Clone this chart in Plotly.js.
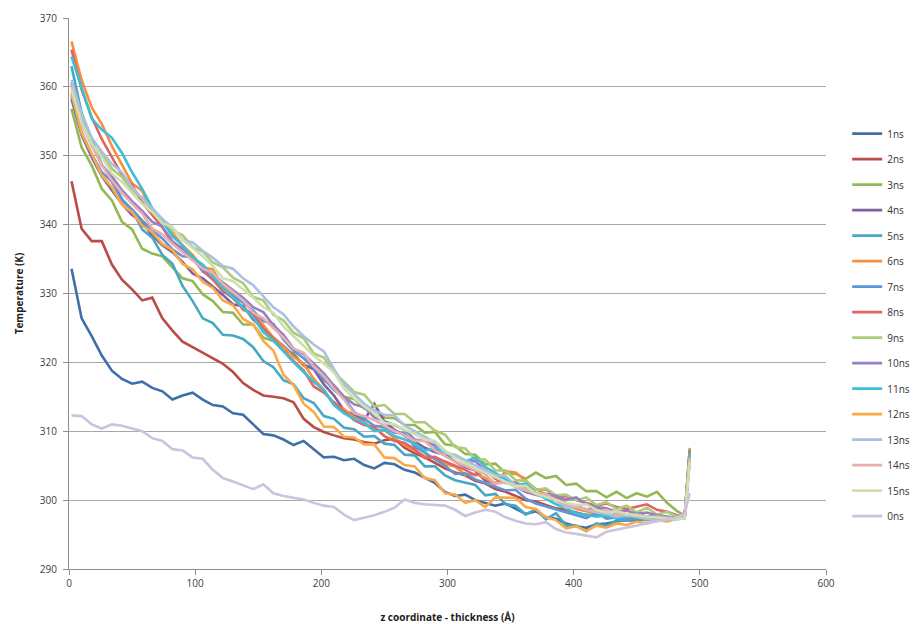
<!DOCTYPE html>
<html><head><meta charset="utf-8">
<script src="https://cdn.plot.ly/plotly-3.0.1.min.js"></script>
<style>html,body{margin:0;padding:0;background:#fff}#chart{width:914px;height:624px}</style>
</head><body><div id="chart"></div>
<script>
const zCoord = [2,10,18,26,34,42,50,58,66,74,82,90,98,106,114,122,130,138,146,154,162,170,178,186,194,202,210,218,226,234,242,250,258,266,274,282,290,298,306,314,322,330,338,346,354,362,370,378,386,394,402,410,418,426,434,442,450,458,466,474,482,488,492];

const seriesNames = ['1ns','2ns','3ns','4ns','5ns','6ns','7ns','8ns','9ns','10ns','11ns','12ns','13ns','14ns','15ns','0ns'];
const seriesColors = ['#3f6fa8','#bb4b47','#94b856','#7d60a0','#46a8c4','#f49040','#5f96d8','#e06461','#adcb7b','#9880c4','#3cc0d8','#fba946','#a9c0e0','#eaaeae','#cde0ad','#cbc3df'];

const t1ns = [333.6,326.4,323.8,321.0,318.8,317.6,316.9,317.2,316.3,315.8,
314.6,315.2,315.6,314.6,313.8,313.6,312.6,312.4,311.0,309.6,
309.4,308.8,308.0,308.6,307.4,306.2,306.3,305.8,306.0,305.1,
304.6,305.4,305.2,304.4,304.0,303.2,302.5,301.2,300.6,300.8,
300.0,299.6,299.2,299.5,298.8,298.0,298.4,297.5,297.3,296.6,
296.2,296.0,296.5,296.6,296.9,297.1,297.0,297.4,297.2,297.5,
297.3,297.5,306.0];
const t2ns = [346.3,339.4,337.6,337.6,334.2,332.0,330.6,329.0,329.4,326.4,
324.6,323.0,322.2,321.4,320.6,319.8,318.6,317.0,316.0,315.2,
315.0,314.8,314.2,311.8,310.6,309.9,309.4,309.0,308.8,308.4,
308.2,308.7,308.9,307.6,306.8,306.2,305.4,304.6,304.0,303.6,
302.8,302.4,301.6,301.2,300.6,300.0,299.8,299.3,298.8,298.6,
298.2,297.8,297.9,297.6,297.7,297.4,297.6,297.3,297.5,297.4,
297.4,297.6,307.3];
const t3ns = [356.8,351.2,348.6,345.2,343.5,340.4,339.3,336.5,335.8,335.4,
333.8,332.2,331.8,329.9,328.9,327.3,327.2,325.5,325.5,323.6,
323.1,321.7,321.3,319.5,319.2,317.3,316.7,315.0,314.7,313.3,
313.1,312.0,311.9,310.9,310.9,309.8,309.9,308.1,307.9,306.7,
306.6,305.2,305.3,303.9,303.8,303.1,304.0,303.2,303.5,302.2,
302.4,301.3,301.3,300.4,301.2,300.3,301.0,300.5,301.2,299.6,
298.4,297.8,307.6];
const t4ns = [358.2,353.0,349.8,347.0,345.0,343.0,341.4,340.4,338.4,337.0,
336.0,334.6,332.9,332.2,331.0,329.8,328.4,328.2,326.2,325.0,
323.6,322.4,321.0,319.7,319.0,316.8,315.2,313.0,312.4,311.6,
314.0,311.4,310.2,309.4,308.5,307.6,307.0,306.6,305.6,304.8,
304.3,302.8,302.5,302.8,302.0,301.2,300.8,300.5,300.4,299.6,
299.2,298.6,298.9,298.2,298.4,297.9,298.1,297.6,297.8,297.5,
297.4,297.6,306.4];
const t5ns = [363.0,356.2,352.4,348.7,346.6,343.7,342.1,339.3,338.1,335.6,
334.3,331.1,328.9,326.4,325.7,324.0,323.9,323.4,322.2,320.2,
319.3,317.4,316.8,314.8,314.1,312.2,311.8,310.5,310.3,309.2,
309.3,308.2,308.0,306.6,306.5,304.9,304.9,303.6,302.9,302.5,
302.2,300.7,300.9,299.4,299.2,297.9,298.7,297.2,298.1,296.3,
296.3,295.5,296.6,296.2,297.1,297.0,297.3,297.1,297.5,297.2,
297.4,297.5,306.8];
const t6ns = [366.6,361.0,357.0,354.6,351.4,348.6,346.0,344.9,341.6,340.3,
338.8,337.0,335.6,333.8,333.5,331.0,329.8,327.6,327.2,325.4,
323.6,322.3,320.8,319.8,317.6,316.0,313.9,313.2,312.0,311.3,
310.2,310.2,309.0,308.0,307.2,306.4,306.1,305.2,304.9,303.7,
303.8,303.2,302.3,304.2,304.0,302.8,301.6,300.8,300.2,299.3,
298.7,298.4,298.0,297.6,297.9,297.4,297.6,297.2,297.5,297.3,
297.5,297.6,306.6];
const t7ns = [358.6,353.4,350.2,347.6,346.2,343.6,342.2,340.6,339.2,338.0,
336.4,335.4,335.3,333.2,332.2,330.3,329.8,328.6,327.5,326.0,
325.6,323.3,321.7,320.6,319.2,317.6,316.0,314.9,312.8,311.8,
310.8,310.6,309.8,309.7,307.8,306.9,305.9,305.0,303.8,303.9,
303.0,302.5,302.0,301.4,301.5,300.2,299.5,299.1,298.6,298.2,
297.8,297.4,298.2,297.3,297.5,297.2,297.6,297.3,297.5,297.4,
297.3,297.5,306.7];
const t8ns = [365.4,359.6,355.6,352.4,349.8,347.2,345.7,343.2,341.4,339.6,
337.3,336.6,335.0,333.4,332.0,330.4,329.3,327.8,327.0,324.9,
323.4,321.7,320.2,318.8,316.5,315.6,314.2,312.9,311.6,310.9,
310.6,309.3,308.6,308.3,307.4,306.1,306.3,305.6,305.0,304.4,
303.6,304.4,303.1,302.5,302.6,301.8,301.5,301.6,300.4,300.6,
300.0,299.6,299.2,299.5,299.0,298.7,299.0,299.4,298.6,298.3,
297.8,297.6,307.2];
const t9ns = [359.0,354.8,351.5,350.3,348.1,346.9,344.9,343.9,342.1,340.8,
339.1,338.5,336.7,336.1,334.5,333.8,332.3,331.5,329.5,329.0,
326.9,326.1,324.3,323.5,321.3,320.7,318.5,317.2,315.7,315.3,
313.6,313.8,312.5,312.5,311.3,311.3,310.1,309.5,307.7,307.5,
305.9,305.9,304.3,304.3,302.9,302.8,301.5,301.7,300.7,300.8,
300.0,300.4,299.3,299.7,298.7,299.2,298.2,298.9,297.9,298.3,
297.6,297.5,306.5];
const t10ns = [360.6,355.0,351.6,348.6,347.0,345.0,343.4,342.0,340.4,339.7,
337.6,336.4,335.3,333.4,332.8,331.6,330.5,329.4,328.0,327.3,
325.4,324.0,322.0,321.2,319.8,318.4,316.6,315.0,313.9,313.5,
312.0,311.5,310.9,310.2,308.8,308.6,307.9,307.0,306.4,305.6,
305.7,304.2,303.7,303.0,302.4,301.9,300.8,300.9,300.6,300.1,
300.4,299.4,299.0,298.8,298.3,298.5,298.0,298.2,297.8,297.6,
297.4,297.5,306.3];
const t11ns = [364.4,360.0,355.4,353.8,352.6,350.4,347.6,345.2,342.4,340.6,
338.3,337.0,335.2,334.2,332.5,330.8,329.4,328.0,326.5,324.4,
323.2,321.6,320.0,318.6,317.2,316.0,313.8,312.6,311.8,311.2,
310.0,310.2,309.3,308.8,308.2,307.2,307.5,306.8,306.3,305.6,
306.2,304.8,304.0,303.1,302.2,302.4,301.0,300.2,299.4,298.8,
298.1,297.9,297.6,297.8,297.4,297.6,297.9,297.5,297.3,297.6,
297.4,297.6,306.9];
const t12ns = [359.2,353.3,350.3,347.1,345.4,342.9,341.8,339.9,338.9,337.2,
336.3,334.3,333.5,331.7,330.8,329.0,328.3,326.3,325.5,323.1,
321.7,318.2,316.7,314.0,312.8,310.7,310.6,309.2,309.1,308.1,
308.1,306.2,306.1,305.1,304.9,303.2,302.9,301.0,300.8,299.6,
300.0,299.0,300.4,300.4,300.3,299.0,298.7,297.5,297.1,295.9,
296.2,295.5,296.3,296.0,296.6,296.4,296.9,296.6,297.1,296.9,
297.3,297.4,306.2];
const t13ns = [361.0,356.0,352.6,350.6,348.8,347.6,345.4,343.8,342.4,340.8,
339.6,337.8,337.4,336.2,335.2,334.0,333.6,332.2,331.2,329.6,
328.0,327.0,325.2,323.8,322.6,321.6,319.0,316.8,315.4,314.0,
313.0,312.4,312.3,310.8,310.0,309.2,308.4,306.8,306.6,305.8,
305.0,304.3,303.6,303.5,302.2,301.6,301.0,300.4,300.0,298.9,
299.0,298.6,298.2,298.0,297.6,297.8,297.5,297.3,297.1,297.3,
297.2,297.4,305.8];
const t14ns = [360.2,354.6,351.6,348.6,346.4,344.6,343.0,341.6,339.4,338.6,
337.2,336.0,334.8,333.6,333.0,331.4,330.2,329.0,327.2,326.4,
325.0,323.6,322.0,321.4,319.4,318.0,316.2,314.6,312.6,312.2,
311.6,310.8,310.0,309.4,308.6,308.6,307.2,306.4,305.6,305.0,
304.4,303.7,302.4,302.6,301.9,301.4,300.9,300.9,300.0,299.4,
299.1,298.7,298.3,298.6,298.0,297.8,297.9,297.5,297.6,297.4,
297.3,297.5,306.0];
const t15ns = [359.6,354.8,351.8,349.8,347.4,346.2,344.6,343.0,341.8,340.2,
339.6,337.8,336.6,335.4,334.0,332.2,331.8,330.6,329.4,328.0,
327.2,325.2,323.8,322.4,321.0,319.8,318.6,316.2,314.8,313.6,
312.6,311.2,311.0,310.2,309.6,308.8,308.6,307.2,306.2,305.4,
304.6,304.0,303.3,302.6,302.0,302.1,300.9,300.5,300.0,299.6,
299.3,299.4,298.6,298.2,298.4,298.0,297.8,297.6,297.5,297.3,
297.2,297.4,305.6];
const t0ns = [312.3,312.2,311.0,310.4,311.0,310.8,310.4,310.0,309.0,308.6,
307.4,307.2,306.2,306.0,304.4,303.2,302.7,302.2,301.6,302.3,
301.0,300.6,300.3,300.1,299.6,299.2,299.0,297.9,297.1,297.4,
297.8,298.3,298.9,300.1,299.6,299.4,299.3,299.2,298.6,297.7,
298.2,298.6,298.3,297.5,297.0,296.6,296.5,296.8,295.8,295.3,
295.1,294.9,294.6,295.4,295.7,296.0,296.3,296.6,296.9,297.2,
297.5,298.0,301.0];

const seriesValues = [t1ns,t2ns,t3ns,t4ns,t5ns,t6ns,t7ns,t8ns,t9ns,t10ns,t11ns,t12ns,t13ns,t14ns,t15ns,t0ns];

const traces = seriesNames.map((n, i) => ({
  type: 'scatter', mode: 'lines', name: n, legendgroup: n,
  x: zCoord, y: seriesValues[i],
  line: {color: seriesColors[i], width: 2.6, shape: 'linear'},
  hoverinfo: 'skip'
}));

const layout = {
  width: 914, height: 624,
  margin: {l: 69, r: 88, t: 18, b: 55, autoexpand: false},
  paper_bgcolor: '#ffffff', plot_bgcolor: '#ffffff',
  font: {family: '"Open Sans", "DejaVu Sans", sans-serif', size: 10, color: '#404040'},
  showlegend: true,
  xaxis: {
    range: [0, 600], tick0: 0, dtick: 100, showgrid: false, zeroline: false,
    showline: true, linecolor: '#8e8e8e', linewidth: 1,
    ticks: 'outside', ticklen: 5, tickcolor: '#8e8e8e',
    tickfont: {size: 10, color: '#404040'},
    title: {text: 'z coordinate - thickness (Å)', standoff: 25,
            font: {size: 10, color: '#222222', weight: 'bold'}}
  },
  yaxis: {
    range: [290, 370], tick0: 290, dtick: 10, showgrid: true, gridcolor: '#a8a8a8', gridwidth: 1,
    zeroline: false, showline: true, linecolor: '#8e8e8e', linewidth: 1,
    ticks: 'outside', ticklen: 5, tickcolor: '#8e8e8e', ticklabelstandoff: 4,
    tickfont: {size: 10, color: '#404040'},
    title: {text: 'Temperature (K)', standoff: 14,
            font: {size: 10, color: '#222222', weight: 'bold'}}
  },
  legend: {
    x: 1.028, xanchor: 'left', y: 0.8164, yanchor: 'top',
    traceorder: 'grouped', tracegroupgap: 6.5,
    bgcolor: 'rgba(0,0,0,0)', borderwidth: 0,
    font: {size: 10, color: '#333333'}
  }
};

Plotly.newPlot('chart', traces, layout, {staticPlot: true, displayModeBar: false});
</script>
</body></html>
